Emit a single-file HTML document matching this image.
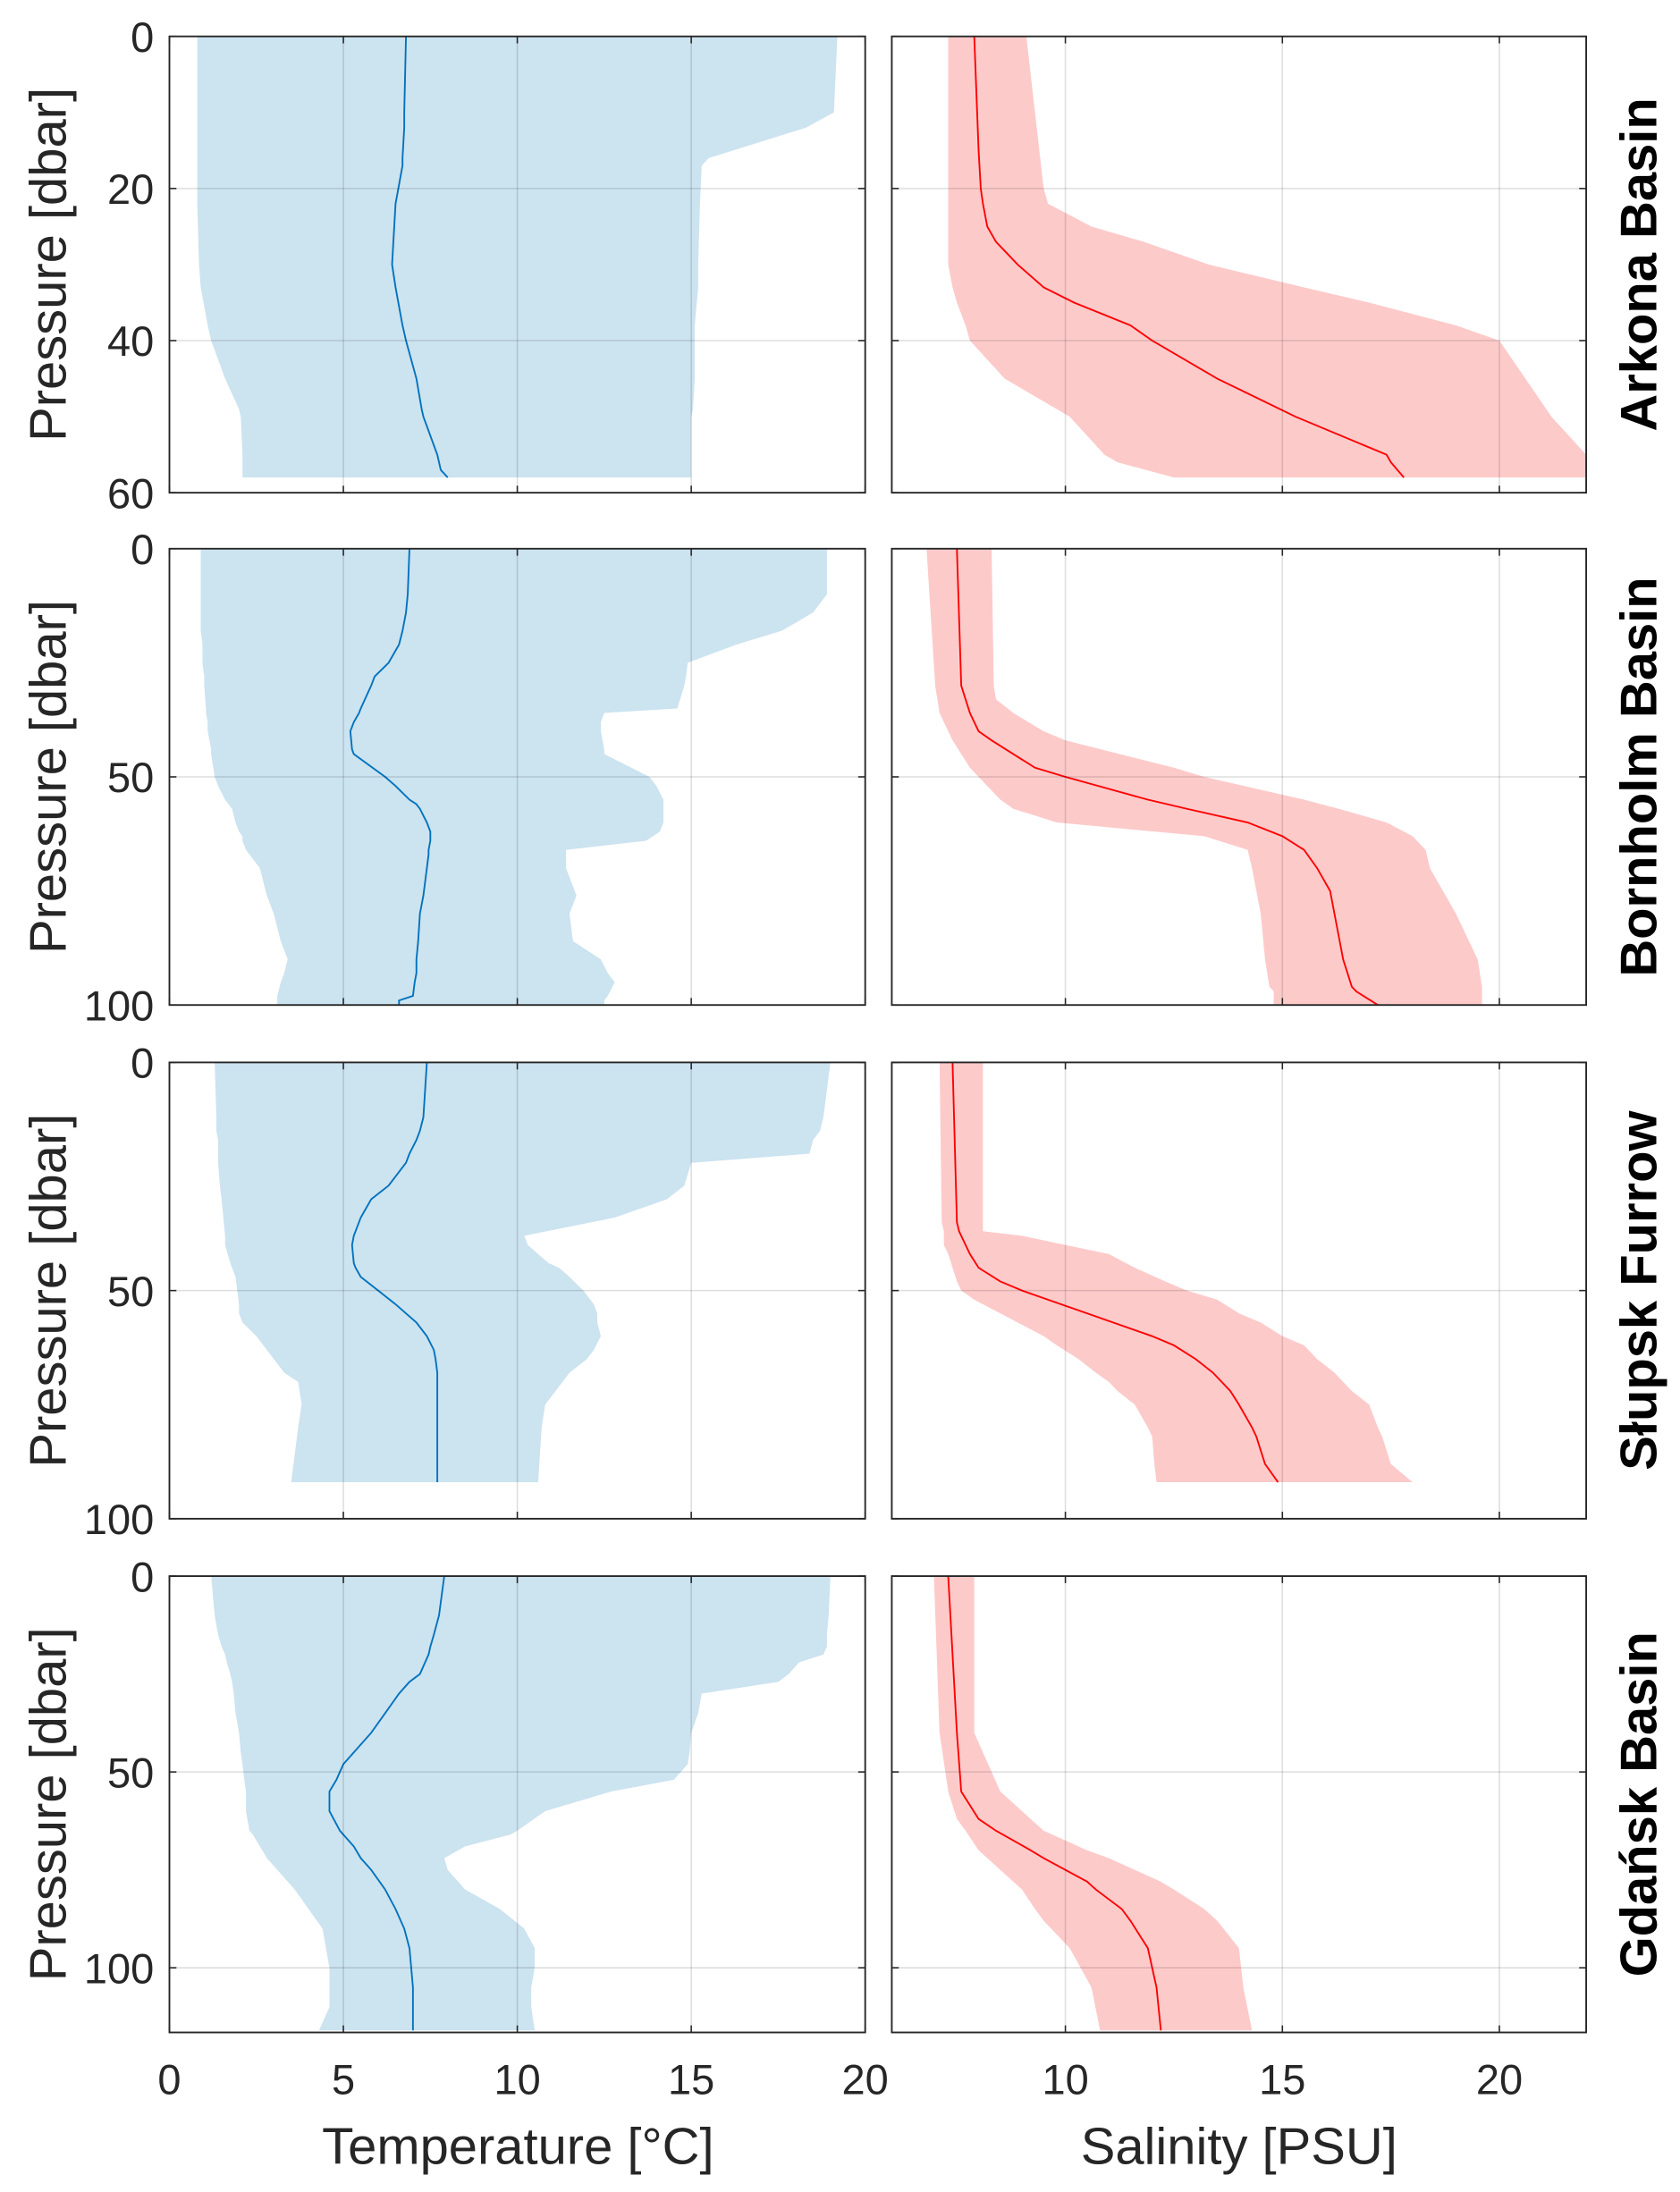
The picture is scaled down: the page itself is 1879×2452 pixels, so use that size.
<!DOCTYPE html>
<html><head><meta charset="utf-8"><style>
html,body{margin:0;padding:0;background:#fff}
svg{display:block}
text{font-family:"Liberation Sans",sans-serif;fill:#262626}
</style></head><body>
<svg id="fig" width="1879" height="2452" viewBox="0 0 1200 1566" xmlns="http://www.w3.org/2000/svg"></svg>
<script>
// ---- data (pressure [dbar], min, mean, max) ----
const basinNames = ["Arkona Basin","Bornholm Basin","Słupsk Furrow","Gdańsk Basin"];
const yMaxes = [60,100,100,116.5];
const yTicks = [[0,20,40,60],[0,50,100],[0,50,100],[0,50,100]];
const tempTicks = [0,5,10,15,20];
const salTicks = [10,15,20];

const arkTP = [0,10,12,16,17,22,30,33,38,40,45,49,50,55,57,58];
const arkTmin = [0.8,0.8,0.8,0.8,0.8,0.8,0.85,0.9,1.1,1.2,1.6,2.0,2.05,2.1,2.1,2.1];
const arkTmean = [6.8,6.75,6.75,6.7,6.7,6.5,6.4,6.5,6.7,6.8,7.1,7.25,7.3,7.7,7.8,8.0];
const arkTmax = [19.2,19.1,18.3,15.5,15.3,15.25,15.2,15.2,15.1,15.1,15.1,15.05,15.0,15.0,15.0,15.0];
const arkSP = [0,15,20,22,25,27,30,33,35,38,40,45,50,55,56,58];
const arkSmin = [7.3,7.3,7.3,7.3,7.3,7.3,7.3,7.4,7.5,7.7,7.8,8.6,10.1,10.9,11.2,12.5];
const arkSmean = [7.9,8.0,8.05,8.1,8.2,8.4,8.9,9.5,10.2,11.5,12.0,13.5,15.3,17.4,17.5,17.8];
const arkSmax = [9.1,9.4,9.5,9.6,10.6,11.8,13.3,15.5,17.0,19.0,20,20.6,21.2,22,22,22];

const borTP = [0,10,14,18,21,25,28,30,35,36,38,40,44,45,50,52,55,56,57,60,62,63,64,66,67,70,76,80,86,90,93,95,98,99,100];
const borTmin = [0.9,0.9,0.9,0.9,0.95,0.95,1.0,1.0,1.05,1.05,1.1,1.1,1.2,1.2,1.3,1.4,1.6,1.7,1.8,1.9,2.0,2.1,2.1,2.2,2.3,2.6,2.8,3.0,3.2,3.4,3.3,3.2,3.1,3.1,3.1];
const borTmean = [6.9,6.85,6.8,6.7,6.6,6.3,5.9,5.8,5.5,5.45,5.3,5.2,5.25,5.3,6.2,6.5,6.9,7.1,7.2,7.4,7.5,7.5,7.5,7.45,7.45,7.4,7.3,7.2,7.15,7.1,7.1,7.05,7.0,6.6,6.6];
const borTmax = [18.9,18.9,18.5,17.6,16.3,14.9,14.85,14.8,14.6,12.5,12.4,12.4,12.5,12.5,13.8,14.0,14.2,14.2,14.2,14.2,14.1,13.9,13.7,11.4,11.4,11.4,11.7,11.5,11.6,12.4,12.6,12.8,12.6,12.5,12.5];
const borSP = [0,30,33,36,40,42,48,50,55,57,60,63,66,70,75,80,90,96,97,100];
const borSmin = [6.8,7.0,7.05,7.1,7.3,7.4,7.8,8.0,8.5,8.8,9.8,13.2,14.2,14.3,14.4,14.5,14.6,14.7,14.8,14.8];
const borSmean = [7.5,7.6,7.7,7.8,8.0,8.3,9.3,10,11.9,12.8,14.2,15.0,15.5,15.8,16.1,16.2,16.4,16.6,16.7,17.2];
const borSmax = [8.3,8.35,8.4,8.8,9.5,10,12.5,13.2,15.5,16.3,17.4,18,18.3,18.4,18.7,19,19.5,19.6,19.6,19.6];

const slpTP = [0,12,15,17,20,22,27,30,34,38,40,44,45,47,50,53,55,57,60,63,65,68,70,75,80,92];
const slpTmin = [1.3,1.35,1.35,1.4,1.4,1.4,1.45,1.5,1.55,1.6,1.6,1.75,1.8,1.9,1.95,2.0,2.0,2.1,2.5,2.8,3.0,3.3,3.7,3.8,3.7,3.5];
const slpTmean = [7.4,7.3,7.2,7.1,6.9,6.8,6.3,5.8,5.5,5.3,5.25,5.3,5.35,5.5,6.0,6.5,6.8,7.1,7.4,7.6,7.65,7.7,7.7,7.7,7.7,7.7];
const slpTmax = [19.0,18.8,18.7,18.5,18.4,15.0,14.8,14.3,12.8,10.2,10.3,10.9,11.2,11.5,11.9,12.2,12.3,12.3,12.4,12.2,12.0,11.5,11.3,10.8,10.7,10.6];
const slpSP = [0,35,37,38,40,42,45,48,50,52,55,57,60,62,65,68,70,72,75,80,82,88,92];
const slpSmin = [7.1,7.15,7.2,7.2,7.2,7.3,7.4,7.5,7.6,7.9,8.5,8.9,9.5,9.8,10.3,10.7,11.0,11.2,11.6,11.9,12.0,12.05,12.1];
const slpSmean = [7.4,7.5,7.55,7.6,7.7,7.8,8.0,8.5,9.0,9.6,10.5,11.1,12,12.5,13,13.4,13.6,13.8,14.0,14.3,14.4,14.6,14.9];
const slpSmax = [8.1,8.1,8.1,9.0,10.0,11.0,11.6,12.3,12.8,13.5,14.0,14.5,15.0,15.5,15.8,16.2,16.4,16.6,17.0,17.2,17.3,17.5,18.0];

const gdaTP = [0,10,15,18,20,22,25,27,30,35,40,45,48,52,55,60,65,66,69,72,75,80,85,90,95,100,105,110,116];
const gdaTmin = [1.2,1.3,1.4,1.5,1.6,1.65,1.75,1.8,1.85,1.9,2.0,2.05,2.1,2.15,2.2,2.2,2.3,2.4,2.6,2.8,3.1,3.6,4.0,4.4,4.5,4.6,4.6,4.6,4.3];
const gdaTmean = [7.9,7.75,7.6,7.5,7.45,7.35,7.2,6.9,6.6,6.2,5.8,5.3,5.0,4.8,4.6,4.6,4.9,5.0,5.3,5.5,5.8,6.2,6.5,6.75,6.9,6.95,7.0,7.0,7.0];
const gdaTmax = [19.0,18.95,18.9,18.9,18.8,18.1,17.8,17.5,15.3,15.2,15.0,14.95,14.9,14.5,12.7,10.8,10.0,9.8,8.5,7.9,8.0,8.5,9.5,10.2,10.5,10.5,10.4,10.4,10.5];
const gdaSP = [0,40,55,62,65,70,72,78,80,85,88,95,105,116];
const gdaSmin = [6.97,7.1,7.3,7.5,7.7,8.0,8.2,8.8,9.0,9.3,9.5,10.1,10.6,10.8];
const gdaSmean = [7.3,7.5,7.6,8.0,8.4,9.2,9.5,10.5,10.7,11.3,11.5,11.9,12.1,12.2];
const gdaSmax = [7.9,7.9,8.5,9.2,9.5,10.5,11,12.2,12.5,13.2,13.5,14.0,14.1,14.3];

const panels = [
 {tp:arkTP,tmin:arkTmin,tmean:arkTmean,tmax:arkTmax,sp:arkSP,smin:arkSmin,smean:arkSmean,smax:arkSmax},
 {tp:borTP,tmin:borTmin,tmean:borTmean,tmax:borTmax,sp:borSP,smin:borSmin,smean:borSmean,smax:borSmax},
 {tp:slpTP,tmin:slpTmin,tmean:slpTmean,tmax:slpTmax,sp:slpSP,smin:slpSmin,smean:slpSmean,smax:slpSmax},
 {tp:gdaTP,tmin:gdaTmin,tmean:gdaTmean,tmax:gdaTmax,sp:gdaSP,smin:gdaSmin,smean:gdaSmean,smax:gdaSmax}
];

// ---- layout ----
const NS="http://www.w3.org/2000/svg";
const svg=document.getElementById('fig');
const tops=[26,392,759,1126], H=326;
const TL=121,TR=618,SL=637,SR=1133;
const tx=v=>TL+(v-0)/20*(TR-TL);
const sx=v=>SL+(v-6)/16*(SR-SL);
function mk(tag,attrs,parent){const e=document.createElementNS(NS,tag);for(const k in attrs)e.setAttribute(k,attrs[k]);(parent||svg).appendChild(e);return e;}

panels.forEach((d,i)=>{
  const top=tops[i], ym=yMaxes[i];
  const y=p=>top+p/ym*H;
  const g=mk('g',{});
  
  
  [[d.tp,d.tmin,d.tmean,d.tmax,tx,'#cce3f0','#0072bd','temperature',TL,TR],[d.sp,d.smin,d.smean,d.smax,sx,'#fdcaca','#ff0000','salinity',SL,SR]].forEach(([P,mn,me,mx,X,fc,lc,nm,L,R])=>{
    const cp=mk('clipPath',{id:'c'+nm+i},g);
    mk('rect',{x:L,y:top,width:R-L,height:H},cp);
    const gg=mk('g',{'clip-path':'url(#c'+nm+i+')'},g);
    let pts=P.map((p,k)=>X(mn[k])+','+y(p));
    pts=pts.concat(P.slice().reverse().map((p,k)=>X(mx[P.length-1-k])+','+y(p)));
    const band=mk('polygon',{points:pts.join(' '),fill:fc},gg);
    
    
    const ln=mk('polyline',{points:P.map((p,k)=>X(me[k])+','+y(p)).join(' '),fill:'none',stroke:lc,'stroke-width':1.2},gg);
    
    
    const xt = nm==='temperature'?tempTicks:salTicks;
    xt.forEach(v=>{const xx=X(v); if(xx>L+1&&xx<R-1) mk('line',{x1:xx,x2:xx,y1:top,y2:top+H,stroke:'#000','stroke-opacity':0.13,'stroke-width':1},g);
      mk('line',{x1:xx,x2:xx,y1:top+H,y2:top+H-5,stroke:'#262626','stroke-width':1},g);
      mk('line',{x1:xx,x2:xx,y1:top,y2:top+5,stroke:'#262626','stroke-width':1},g);});
    yTicks[i].forEach(v=>{const yy=y(v); if(yy>top+1&&yy<top+H-1) mk('line',{x1:L,x2:R,y1:yy,y2:yy,stroke:'#000','stroke-opacity':0.13,'stroke-width':1},g);
      mk('line',{x1:L,x2:L+5,y1:yy,y2:yy,stroke:'#262626'},g);mk('line',{x1:R,x2:R-5,y1:yy,y2:yy,stroke:'#262626'},g);});
    const box=mk('rect',{x:L,y:top,width:R-L,height:H,fill:'none',stroke:'#262626','stroke-width':1.2},g);
    
    
    if(i===3){xt.forEach(v=>{const t=mk('text',{x:X(v),y:top+H+44,'text-anchor':'middle','font-size':30},g);t.textContent=v;});}
  });
  yTicks[i].forEach(v=>{const t=mk('text',{x:110,y:y(v)+11,'text-anchor':'end','font-size':30},g);t.textContent=v;});
  const yl=mk('text',{x:0,y:0,transform:`translate(47,${top+H/2}) rotate(-90)`,'text-anchor':'middle','font-size':37},g);
  yl.textContent='Pressure [dbar]';
  
  
  const bt=mk('text',{x:0,y:0,transform:`translate(1183,${top+H/2}) rotate(-90)`,'text-anchor':'middle','font-size':37,'font-weight':'bold',style:'fill:#000'},g);
  bt.textContent=basinNames[i];
  
  
});
const xl1=mk('text',{x:370,y:1546,'text-anchor':'middle','font-size':37});xl1.textContent='Temperature [°C]';


const xl2=mk('text',{x:885,y:1546,'text-anchor':'middle','font-size':37});xl2.textContent='Salinity [PSU]';


</script>
</body></html>
